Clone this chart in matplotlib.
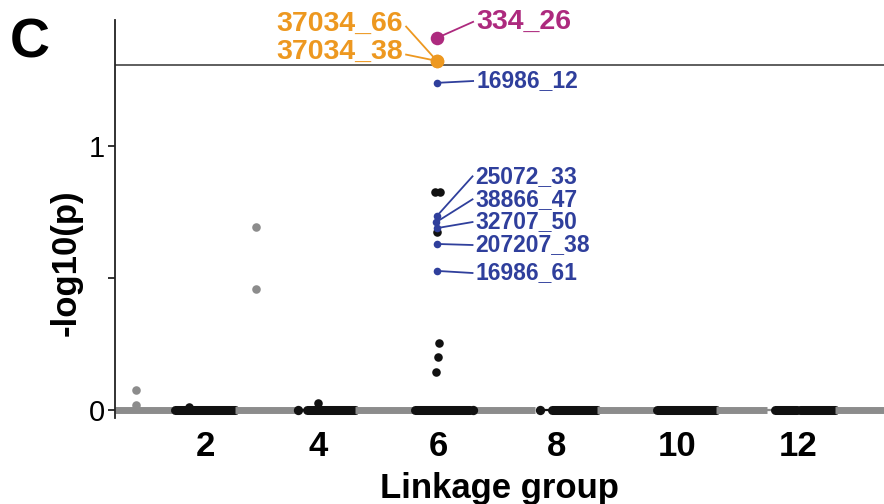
import matplotlib
matplotlib.use("Agg")
import matplotlib.pyplot as plt

plt.rcParams['font.family'] = ['Liberation Sans', 'DejaVu Sans']

# ---------------- data ----------------
# dense runs of markers along -log10(p) = 0, per linkage group (cumulative x units)
run_lg    = [1, 2, 3, 4, 4, 4, 5, 6, 6, 6, 7, 8, 8, 8, 9, 10, 11, 11, 12, 12, 12, 13]
run_start = [0.48, 1.49, 2.51, 3.57, 3.57, 3.72, 4.53, 5.54, 6.47, 6.52, 6.57, 7.65, 7.65, 7.85, 8.61, 9.62, 10.62, 11.48, 11.61, 11.98, 12.03, 12.62]
run_end   = [1.44, 2.51, 3.52, 3.57, 3.72, 4.53, 5.54, 6.47, 6.52, 6.52, 7.56, 7.65, 7.85, 8.61, 9.62, 10.62, 11.48, 11.60, 11.98, 12.03, 12.62, 13.45]
run_kind  = ['dense', 'dense', 'dense', 'dot', 'thin', 'dense', 'dense', 'dense', 'thin', 'dot', 'dense', 'dot', 'thin', 'dense',
             'dense', 'dense', 'dense', 'thin', 'dense', 'thin', 'dense', 'dense']

# unlabelled markers above the baseline
pt_lg = [1, 1, 2, 3, 3, 4, 6, 6, 6, 6, 6, 6]
pt_x  = [0.84, 0.84, 1.73, 2.86, 2.86, 3.91, 5.88, 5.96, 5.91, 5.94, 5.93, 5.90]
pt_y  = [0.076, 0.019, 0.010, 0.693, 0.458, 0.027, 0.826, 0.826, 0.674, 0.254, 0.201, 0.144]

# labelled markers
snp_names  = ['334_26', '37034_66', '37034_38', '16986_12', '25072_33', '38866_47', '32707_50', '207207_38', '16986_61']
snp_x      = [5.91, 5.91, 5.91, 5.91, 5.91, 5.90, 5.91, 5.91, 5.91]
snp_y      = [1.409, 1.322, 1.322, 1.239, 0.735, 0.712, 0.689, 0.629, 0.527]
snp_group  = ['magenta', 'orange', 'orange', 'blue', 'blue', 'blue', 'blue', 'blue', 'blue']
label_x    = [6.57, 5.34, 5.34, 6.57, 6.56, 6.56, 6.56, 6.56, 6.56]
label_y    = [1.470, 1.462, 1.356, 1.246, 0.885, 0.798, 0.712, 0.625, 0.519]

threshold = 1.307
xtick_pos = [2.0, 3.91, 5.93, 7.92, 9.96, 12.0]
xtick_lab = ['2', '4', '6', '8', '10', '12']
ytick_pos = [0, 0.5, 1]
ytick_lab = ['0', '', '1']

# ---------------- style ----------------
GRAY = '#8c8c8c'
BLACK = '#111111'
group_col = {'orange': '#ED9820', 'magenta': '#AD2A7E', 'blue': '#2F3F9C'}
group_size = {'orange': 95, 'magenta': 95, 'blue': 30}
group_font = {'orange': 20.5, 'magenta': 20.5, 'blue': 16.5}

fig = plt.figure(figsize=(8.84, 5.04), dpi=100)
ax = fig.add_axes([115/884, 86/504, 769/884, 398/504])

for lg, s, e, k in zip(run_lg, run_start, run_end, run_kind):
    col = GRAY if lg % 2 == 1 else BLACK
    if k == 'dot':
        ax.scatter([s], [0], s=45, color=col, zorder=3, linewidths=0)
    elif k == 'thin':
        ax.plot([s, e], [0, 0], color=col, lw=1.6, zorder=2, solid_capstyle='butt')
    else:
        lw = 5.0 if col == GRAY else 6.5
        ax.plot([s, e], [0, 0], color=col, lw=lw, zorder=2,
                solid_capstyle='butt' if col == GRAY else 'round')

for lg, x, y in zip(pt_lg, pt_x, pt_y):
    col = GRAY if lg % 2 == 1 else BLACK
    ax.scatter([x], [y], s=38, color=col, zorder=3, linewidths=0)

ax.axhline(threshold, color='#333333', lw=1.1, zorder=1)

for name, x, y, g, lx, ly in zip(snp_names, snp_x, snp_y, snp_group, label_x, label_y):
    col = group_col[g]
    ax.scatter([x], [y], s=group_size[g], color=col, zorder=5, linewidths=0)
    if lx > x:
        ax.plot([x, lx - 0.05], [y, ly], color=col, lw=1.3, zorder=4)
        ax.text(lx, ly, name, color=col, fontsize=group_font[g], fontweight='bold',
                ha='left', va='center')
    else:
        ax.plot([x, lx + 0.05], [y, ly - 0.01], color=col, lw=1.3, zorder=4)
        ax.text(lx, ly, name, color=col, fontsize=group_font[g], fontweight='bold',
                ha='right', va='center')

ax.set_xlim(0.48, 13.45)
ax.set_ylim(-0.030, 1.477)
for sp in ['top', 'right', 'bottom']:
    ax.spines[sp].set_visible(False)
ax.spines['left'].set_linewidth(1.3)
ax.spines['left'].set_color('#222222')

ax.set_xticks(xtick_pos)
ax.set_xticklabels(xtick_lab, fontsize=25, fontweight='bold')
ax.tick_params(axis='x', length=0, pad=9)
ax.set_yticks(ytick_pos)
ax.set_yticklabels(ytick_lab, fontsize=21)
ax.tick_params(axis='y', length=5, width=1.3, pad=2, color='#222222')

ax.set_xlabel('Linkage group', fontsize=25, fontweight='bold', labelpad=6)
ax.set_ylabel('-log10(p)', fontsize=25, fontweight='bold')
ax.yaxis.set_label_coords(-0.042, 0.39)

fig.text(10/884, 1 - 57/504, 'C', fontsize=40, fontweight='bold', ha='left', va='baseline')

fig.savefig('out.png', dpi=100)
